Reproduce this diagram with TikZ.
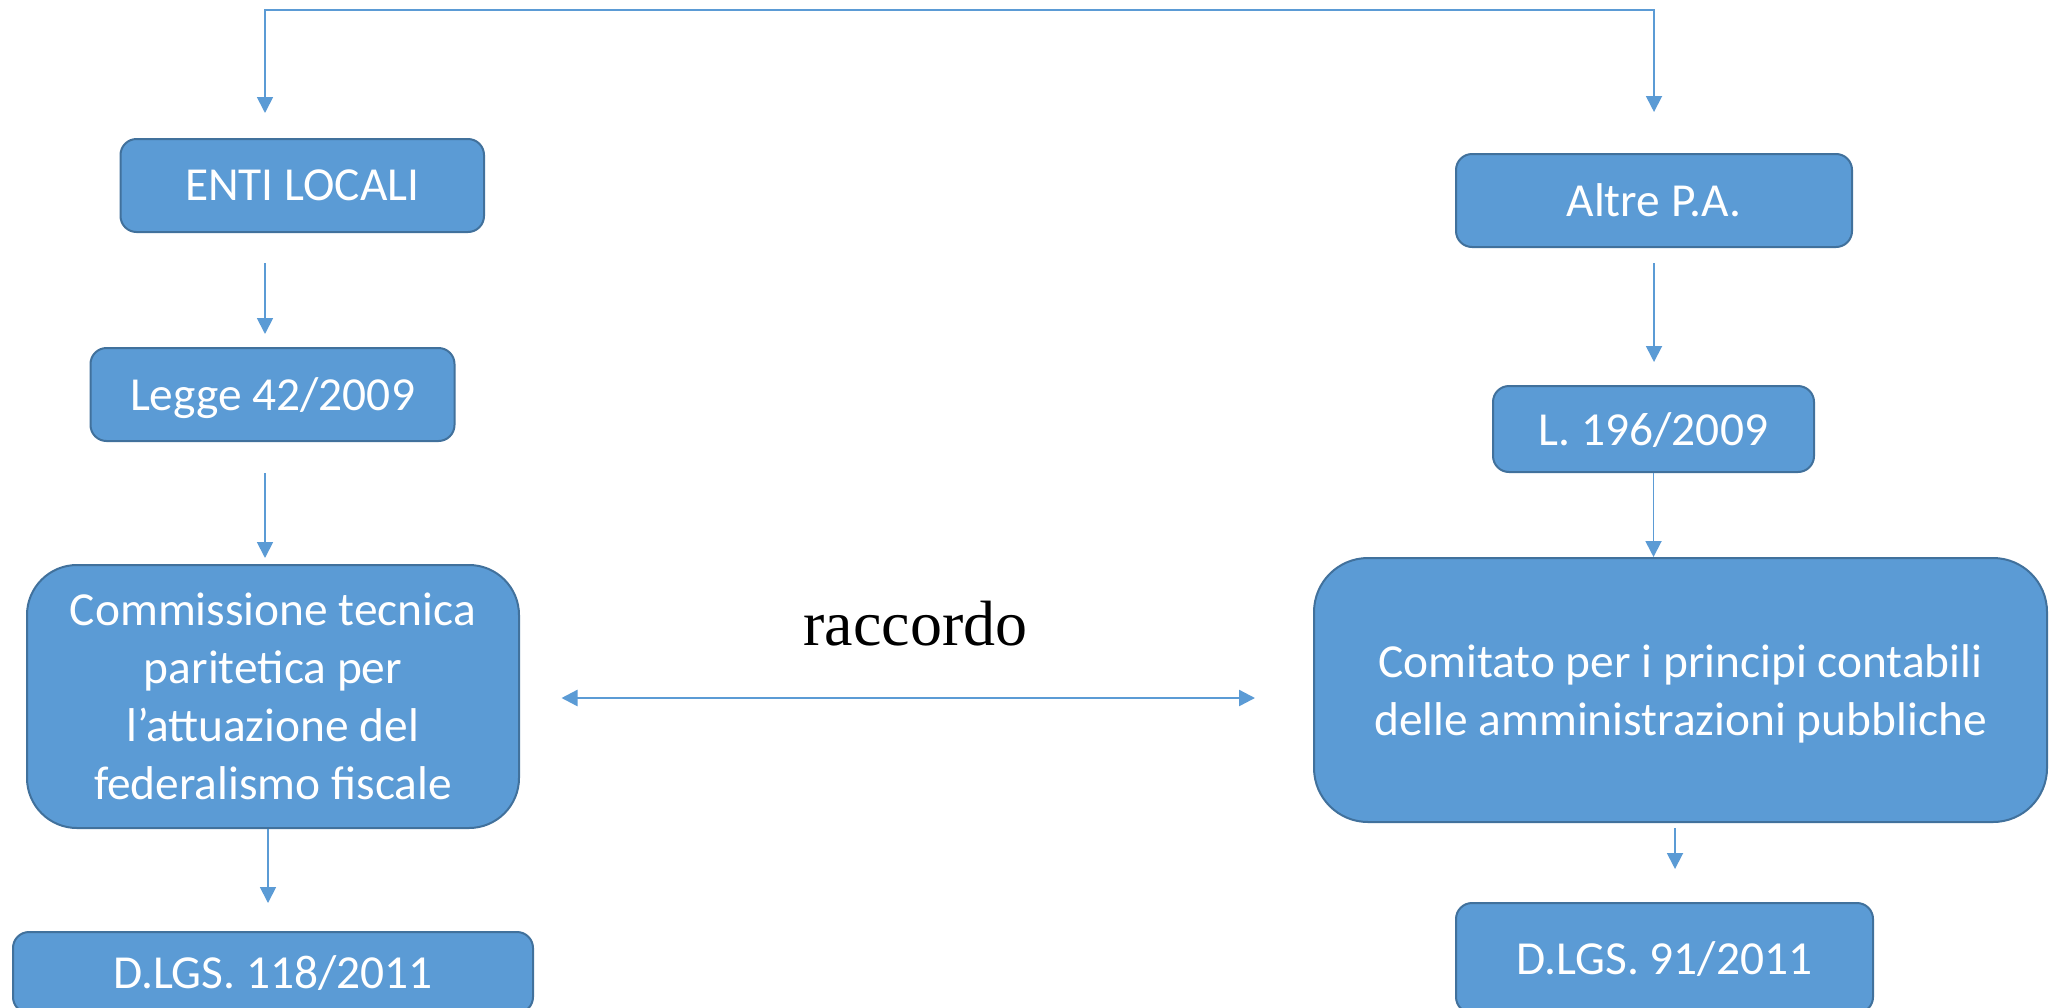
\documentclass[tikz,border=0pt]{standalone}
\usepackage{fontspec}
\setmainfont{Carlito}
\newfontfamily\serifrac{Liberation Serif}
\usetikzlibrary{arrows.meta}
\definecolor{boxfill}{HTML}{5B9BD5}
\definecolor{boxline}{HTML}{41719C}
\definecolor{conncol}{HTML}{5B9BD5}
\tikzset{myTri/.tip={Triangle[length=8pt,width=8pt]}}
\begin{document}
\begin{tikzpicture}[x=0.5pt,y=-0.5pt,
  box/.style={draw=boxline, line width=1pt, fill=boxfill, text=white,
    rounded corners=8pt, inner sep=0pt, align=center, text depth=0pt,
    font=\fontsize{23.7}{29}\selectfont},
  conn/.style={draw=conncol, line width=0.9pt, -myTri}]
\useasboundingbox (0,0) rectangle (2049,1007);
\fill[white] (0,0) rectangle (2049,1007);
\clip (0,0) rectangle (2049,1007);
% boxes
\node[box, minimum width=181.75pt, minimum height=46.5pt] (enti) at (302.25,185.5) {ENTI LOCALI};
\node[box, minimum width=182pt, minimum height=46.5pt] (legge) at (272.5,394.5) {Legge 42/2009};
\node[box, rounded corners=25pt, minimum width=246pt, minimum height=131.5pt] (comm) at (273,696.5) {Commissione tecnica\\paritetica per\\l’attuazione del\\federalismo fiscale};
\node[box, minimum width=260pt, minimum height=40.5pt] (d118) at (273,972.5) {D.LGS. 118/2011};
\node[box, minimum width=198pt, minimum height=46.5pt] (altre) at (1654,200.5) {Altre P.A.};
\node[box, minimum width=160.5pt, minimum height=43pt] (l196) at (1653.5,429) {L. 196/2009};
\node[box, rounded corners=27pt, minimum width=366.5pt, minimum height=132pt] (comit) at (1680.5,690) {Comitato per i principi contabili\\delle amministrazioni pubbliche};
\node[box, minimum width=208.5pt, minimum height=55pt] (d91) at (1664.5,958) {D.LGS. 91/2011};
\node[font=\serifrac\fontsize{32}{38}\selectfont, anchor=base, inner sep=0pt] (racc) at (915.5,645) {raccordo};
% connector end points
\coordinate (tl) at (265,113);
\coordinate (tm) at (960,10);
\coordinate (tr) at (1654,112);
\coordinate (a1s) at (265,263);
\coordinate (a1e) at (265,334);
\coordinate (a2s) at (265,473);
\coordinate (a2e) at (265,558);
\coordinate (a3e) at (268,903);
\coordinate (b1s) at (1654,263);
\coordinate (b1e) at (1654,362);
\coordinate (b3s) at (1675,828);
\coordinate (b3e) at (1675,869);
\coordinate (rl) at (561.5,698);
\coordinate (rr) at (1255,698);
% connectors
\draw[conn, myTri-myTri] (tl) |- (tm) -| (tr);
\draw[conn] (a1s) -- (a1e);
\draw[conn] (a2s) -- (a2e);
\draw[conn] (comm.south -| a3e) -- (a3e);
\draw[conn] (b1s) -- (b1e);
\draw[conn] (l196.south) -- (l196.south |- comit.north);
\draw[conn] (b3s) -- (b3e);
\draw[conn, line width=1.2pt, myTri-myTri] (rl) -- (rr);
\end{tikzpicture}
\end{document}
